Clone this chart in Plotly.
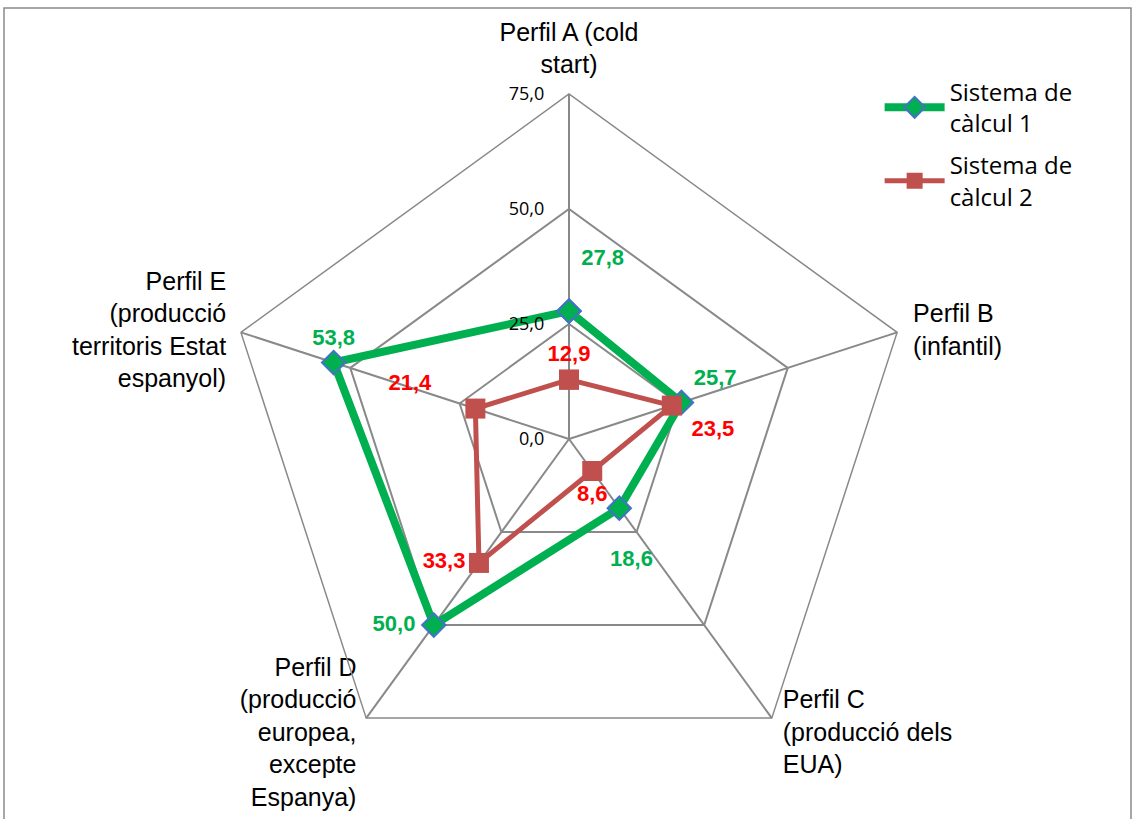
import plotly.graph_objects as go

categories = [
    "Perfil A (cold<br>start)",
    "Perfil B<br>(infantil)",
    "Perfil C<br>(producció dels<br>EUA)",
    "Perfil D<br>(producció<br>europea,<br>excepte<br>Espanya)",
    "Perfil E<br>(producció<br>territoris Estat<br>espanyol)",
]
series1_name = "Sistema de<br>càlcul 1"
series2_name = "Sistema de<br>càlcul 2"
series1 = [27.8, 25.7, 18.6, 50.0, 53.8]
series2 = [12.9, 23.5, 8.6, 33.3, 21.4]
radial_ticks = [0, 25, 50, 75]

def fmt(v):
    return f"{v:.1f}".replace(".", ",")

def closed(lst):
    return list(lst) + list(lst[:1])

NB = "\u00a0"
# label placement (style only)
pos1 = ["top right", "top right", "bottom center", "middle left", "top center"]
pos2 = ["top center", "bottom right", "bottom center", "middle left", "top left"]
lbl1 = [fmt(v) for v in series1]
lbl1[0] = lbl1[0] + "<br> "
lbl1[2] = " <br>" + NB * 4 + lbl1[2]
lbl1[3] = lbl1[3] + NB
lbl2 = [fmt(v) for v in series2]
lbl2[1] = NB + lbl2[1]
lbl2[4] = lbl2[4] + NB * 5
cat_pos = ["top center", "middle right", "middle right", "middle left", "middle left"]
cat_pad = [22, 24, 16, 14, 22]
cat_text = list(categories)
cat_text[2] = " <br>" + cat_text[2]
cat_text[3] = " <br>" + cat_text[3]

fig = go.Figure()
fig.add_trace(go.Scatterpolar(
    r=closed(series1), theta=closed(categories), name=series1_name,
    legendgroup="s1",
    mode="lines+markers+text",
    text=lbl1 + [""],
    textposition=closed(pos1),
    textfont=dict(family="Liberation Sans", size=22, color="#00B050", weight="bold"),
    line=dict(color="#00B050", width=8),
    marker=dict(symbol="diamond", size=18, color="#00B050", line=dict(color="#4472C4", width=2)),
    cliponaxis=False, hoverinfo="r+theta",
))
fig.add_trace(go.Scatterpolar(
    r=closed(series2), theta=closed(categories), name=series2_name,
    legendgroup="s2",
    mode="lines+markers+text",
    text=lbl2 + [""],
    textposition=closed(pos2),
    textfont=dict(family="Liberation Sans", size=22, color="#FF0000", weight="bold"),
    line=dict(color="#C0504D", width=5),
    marker=dict(symbol="square", size=20, color="#C0504D"),
    cliponaxis=False, hoverinfo="r+theta",
))
# category labels placed at the outer ring of the radial scale
fig.add_trace(go.Scatterpolar(
    r=[radial_ticks[-1]] * len(categories), theta=categories,
    mode="markers+text", text=cat_text, textposition=cat_pos,
    textfont=dict(family="Liberation Sans", size=25, color="black"),
    marker=dict(size=cat_pad, opacity=0), showlegend=False, hoverinfo="skip", cliponaxis=False,
))

fig.update_layout(
    width=1135, height=819,
    margin=dict(l=0, r=0, t=0, b=0),
    paper_bgcolor="white",
    polar=dict(
        domain=dict(x=[224/1135, 914/1135], y=[1-784/819, 1-94/819]),
        gridshape="linear",
        bgcolor="white",
        angularaxis=dict(
            rotation=90, direction="clockwise",
            showline=True, linecolor="#898989", linewidth=1.5,
            gridcolor="#898989", gridwidth=1.5,
            ticks="", showticklabels=False,
        ),
        radialaxis=dict(
            range=[0, radial_ticks[-1]], tickvals=radial_ticks,
            ticktext=[fmt(v) for v in radial_ticks],
            angle=90, tickangle=90, side="counterclockwise",
            showline=False, ticks="outside", ticklen=18, tickcolor="rgba(0,0,0,0)",
            gridcolor="#898989", gridwidth=1.5,
            tickfont=dict(family="Open Sans", size=18, color="black"),
        ),
    ),
    legend=dict(
        x=0.775, y=0.915, xanchor="left", yanchor="top",
        font=dict(family="Open Sans", size=24, color="black"),
        itemwidth=60, bgcolor="rgba(0,0,0,0)", tracegroupgap=8,
    ),
    shapes=[dict(type="rect", xref="paper", yref="paper",
                 x0=4/1135, x1=1131/1135, y0=-0.05, y1=1-8/819,
                 line=dict(color="#898989", width=1.5))],
)

fig.write_html("out.html", config={"displayModeBar": False},
               post_script="document.body.style.margin='0';")
